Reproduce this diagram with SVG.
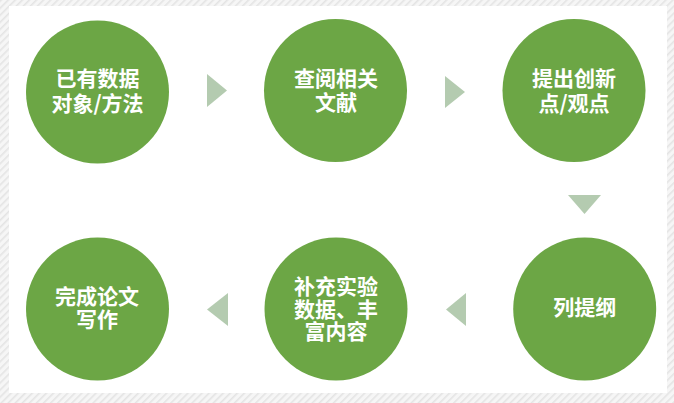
<svg xmlns="http://www.w3.org/2000/svg" width="674" height="403" viewBox="0 0 674 403">
  <defs>
    <pattern id="hatch" width="5" height="5" patternUnits="userSpaceOnUse" patternTransform="rotate(45)">
      <rect width="5" height="5" fill="#f6f6f6"/>
      <rect width="1.6" height="5" fill="#e4e4e4"/>
    </pattern>
    <style>
      .node circle { fill: #6ca645; }
      .node text { fill: #ffffff; font-family: "Noto Sans CJK SC", "Noto Sans", sans-serif; font-weight: bold; font-size: 21px; text-anchor: middle; }
      .arrow { fill: #b4cbb0; }
    </style>
  </defs>
  <rect width="674" height="403" fill="url(#hatch)"/>
  <rect x="9" y="6" width="658" height="387" fill="#ffffff"/>

  <g id="connectors">
    <polygon class="arrow" points="207,74 227,90.5 207,107"/>
    <polygon class="arrow" points="445,76 465,92 445,108"/>
    <polygon class="arrow" points="568,195 601,195 584.5,214"/>
    <polygon class="arrow" points="466,293 446,309.5 466,326"/>
    <polygon class="arrow" points="228,293 207,309.5 228,326"/>
  </g>

  <g id="node1" class="node">
    <circle cx="97.5" cy="92" r="71.5"/>
    <text><tspan x="97.5" y="86">已有数据</tspan><tspan x="97.5" y="111">对象/方法</tspan></text>
  </g>
  <g id="node2" class="node">
    <circle cx="335.5" cy="90.5" r="71.5"/>
    <text><tspan x="336" y="85.5">查阅相关</tspan><tspan x="336" y="110">文献</tspan></text>
  </g>
  <g id="node3" class="node">
    <circle cx="574" cy="90.5" r="71.5"/>
    <text><tspan x="574" y="85.5">提出创新</tspan><tspan x="574" y="111">点/观点</tspan></text>
  </g>
  <g id="node4" class="node">
    <circle cx="584.7" cy="309" r="71.5"/>
    <text x="584.7" y="315">列提纲</text>
  </g>
  <g id="node5" class="node">
    <circle cx="336" cy="309" r="71.5"/>
    <text><tspan x="336" y="294">补充实验</tspan><tspan x="336" y="316.5">数据、丰</tspan><tspan x="336" y="339">富内容</tspan></text>
  </g>
  <g id="node6" class="node">
    <circle cx="97.5" cy="309" r="71.5"/>
    <text><tspan x="97" y="304">完成论文</tspan><tspan x="97" y="327">写作</tspan></text>
  </g>
</svg>
